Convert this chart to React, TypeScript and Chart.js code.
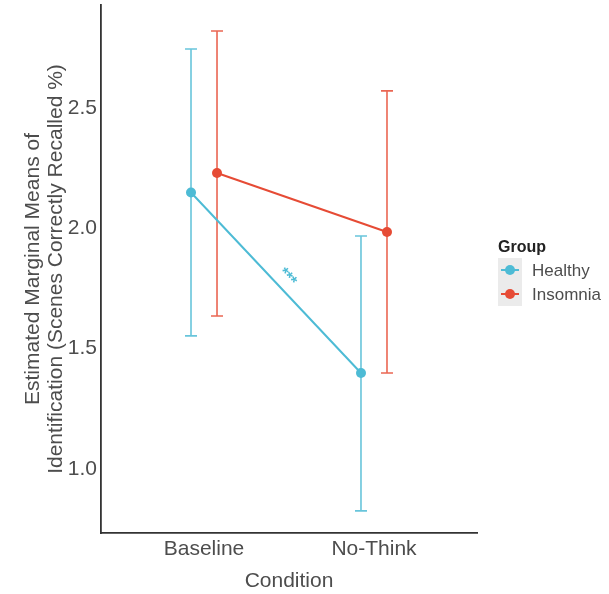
import React, { useEffect, useRef } from "react";
import { Chart, registerables } from "chart.js";

Chart.register(...registerables);

const categories = ["Baseline", "No-Think"];
const groups = ["Healthy", "Insomnia"];
const healthyMean = [2.149, 1.399];
const healthyLower = [1.553, 0.826];
const healthyUpper = [2.745, 1.968];
const insomniaMean = [2.23, 1.985];
const insomniaLower = [1.636, 1.399];
const insomniaUpper = [2.82, 2.571];
const yTicks = [1.0, 1.5, 2.0, 2.5];
const xTitle = "Condition";
const yTitle = ["Estimated Marginal Means of", "Identification (Scenes Correctly Recalled %)"];
const legendTitle = "Group";
const annotation = "***";

const HEALTHY = "#4DBBD5";
const INSOMNIA = "#E64B35";
const DODGE = 0.0765;
const FONT = "'Liberation Sans', Arial, Helvetica, sans-serif";
const TEXT = "#4d4d4d";

const overlay = {
  id: "overlay",
  beforeDatasetsDraw(chart: any) {
    const { ctx, scales } = chart;
    const x = scales.x;
    const y = scales.y;
    chart.data.datasets.forEach((ds: any) => {
      ctx.save();
      ctx.strokeStyle = ds.borderColor;
      ctx.globalAlpha = 0.85;
      ctx.lineWidth = 1.6;
      ds.data.forEach((p: any, i: number) => {
        const px = x.getPixelForValue(p.x);
        const yl = y.getPixelForValue(ds.errLow[i]);
        const yh = y.getPixelForValue(ds.errHigh[i]);
        ctx.beginPath();
        ctx.moveTo(px, yl);
        ctx.lineTo(px, yh);
        ctx.moveTo(px - 6, yl);
        ctx.lineTo(px + 6, yl);
        ctx.moveTo(px - 6, yh);
        ctx.lineTo(px + 6, yh);
        ctx.stroke();
      });
      ctx.restore();
    });
  },
  afterDraw(chart: any) {
    const { ctx, chartArea, scales } = chart;
    const x = scales.x;
    const y = scales.y;
    ctx.save();
    ctx.fillStyle = TEXT;
    // x title
    ctx.font = `21px ${FONT}`;
    ctx.textAlign = "center";
    ctx.textBaseline = "alphabetic";
    ctx.fillText(xTitle, (chartArea.left + chartArea.right) / 2, 587);
    // y title
    const cy = (chartArea.top + chartArea.bottom) / 2;
    const baselines = [39, 62];
    yTitle.forEach((line, i) => {
      ctx.save();
      ctx.translate(baselines[i], cy);
      ctx.rotate(-Math.PI / 2);
      ctx.fillText(line, 0, 0);
      ctx.restore();
    });
    ctx.restore();

    // annotation along healthy line
    const hd = chart.data.datasets[0].data;
    const x0 = x.getPixelForValue(hd[0].x), y0 = y.getPixelForValue(hd[0].y);
    const x1 = x.getPixelForValue(hd[1].x), y1 = y.getPixelForValue(hd[1].y);
    const ang = Math.atan2(y1 - y0, x1 - x0);
    const t = 0.515;
    const ax = x0 + t * (x1 - x0) + Math.sin(ang) * 12;
    const ay = y0 + t * (y1 - y0) - Math.cos(ang) * 12;
    ctx.save();
    ctx.translate(ax, ay);
    ctx.rotate(ang);
    ctx.fillStyle = HEALTHY;
    ctx.font = `bold 16px ${FONT}`;
    ctx.textAlign = "center";
    ctx.textBaseline = "middle";
    ctx.fillText(annotation, 0, 0);
    ctx.restore();

    // legend
    ctx.save();
    ctx.fillStyle = "#222";
    ctx.font = `bold 16px ${FONT}`;
    ctx.textAlign = "left";
    ctx.textBaseline = "alphabetic";
    ctx.fillText(legendTitle, 498, 252);
    chart.data.datasets.forEach((ds: any, i: number) => {
      const top = 258 + i * 24;
      ctx.fillStyle = "#EBEBEB";
      ctx.fillRect(498, top, 24, 24);
      const cyk = top + 12;
      ctx.strokeStyle = ds.borderColor;
      ctx.lineWidth = 2;
      ctx.beginPath();
      ctx.moveTo(501, cyk);
      ctx.lineTo(519, cyk);
      ctx.stroke();
      ctx.fillStyle = ds.borderColor;
      ctx.beginPath();
      ctx.arc(510, cyk, 5, 0, Math.PI * 2);
      ctx.fill();
      ctx.fillStyle = TEXT;
      ctx.font = `17px ${FONT}`;
      ctx.textBaseline = "middle";
      ctx.fillText(groups[i], 532, cyk + 1);
    });
    ctx.restore();
  },
};

export default function App() {
  const ref = useRef<HTMLCanvasElement | null>(null);
  useEffect(() => {
    if (!ref.current) return;
    const mk = (means: number[], off: number) => means.map((v, i) => ({ x: i + 1 + off, y: v }));
    const chart = new Chart(ref.current, {
      type: "line",
      data: {
        datasets: [
          {
            label: groups[0],
            data: mk(healthyMean, -DODGE),
            errLow: healthyLower,
            errHigh: healthyUpper,
            borderColor: HEALTHY,
            backgroundColor: HEALTHY,
            borderWidth: 2,
            pointRadius: 5,
            pointBorderWidth: 0,
          } as any,
          {
            label: groups[1],
            data: mk(insomniaMean, DODGE),
            errLow: insomniaLower,
            errHigh: insomniaUpper,
            borderColor: INSOMNIA,
            backgroundColor: INSOMNIA,
            borderWidth: 2,
            pointRadius: 5,
            pointBorderWidth: 0,
          } as any,
        ],
      },
      options: {
        animation: false,
        responsive: false,
        devicePixelRatio: 1,
        layout: { padding: { left: 0, top: 5, right: 132, bottom: 0 } },
        plugins: { legend: { display: false }, tooltip: { enabled: false } },
        scales: {
          x: {
            type: "linear",
            min: 0.394,
            max: 2.606,
            grid: { display: false, drawTicks: false },
            border: { display: true, color: "#333", width: 1.8 },
            afterBuildTicks: (s: any) => {
              s.ticks = categories.map((_, i) => ({ value: i + 1 }));
            },
            afterFit: (s: any) => {
              s.height = 61;
              s.paddingLeft = 0;
              s.paddingRight = 0;
            },
            ticks: {
              padding: 4,
              color: TEXT,
              font: { family: FONT, size: 21 },
              callback: (v: any) => categories[Math.round(Number(v)) - 1] ?? "",
              maxRotation: 0,
              autoSkip: false,
            },
          },
          y: {
            type: "linear",
            min: 0.734,
            max: 2.928,
            grid: { display: false, drawTicks: false },
            border: { display: true, color: "#333", width: 1.8 },
            afterBuildTicks: (s: any) => {
              s.ticks = yTicks.map((v) => ({ value: v }));
            },
            afterFit: (s: any) => {
              s.width = 101;
              s.paddingTop = 0;
              s.paddingBottom = 0;
            },
            ticks: {
              padding: 4,
              color: TEXT,
              font: { family: FONT, size: 21 },
              callback: (v: any) => Number(v).toFixed(1),
            },
          },
        },
      },
      plugins: [overlay],
    });
    return () => chart.destroy();
  }, []);
  return (
    <div style={{ position: "absolute", left: 0, top: 0, width: 609, height: 594, background: "#fff" }}>
      <canvas ref={ref} width={609} height={594} style={{ width: 609, height: 594 }} />
    </div>
  );
}
